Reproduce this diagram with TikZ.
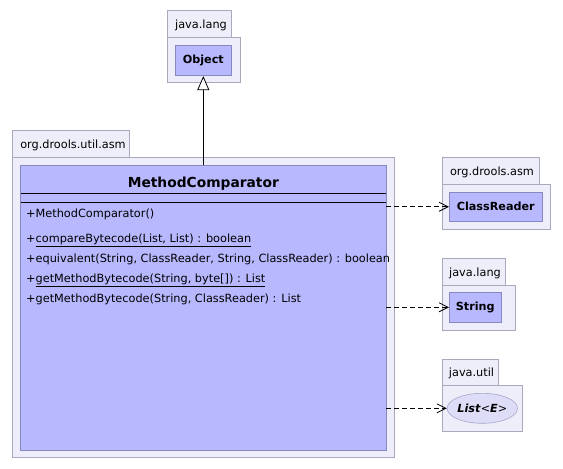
\documentclass[tikz,border=0pt]{standalone}
\usepackage{fontspec}
\setmainfont{DejaVu Sans}
\usetikzlibrary{arrows.meta,shapes.geometric}
\definecolor{pkgfill}{RGB}{238,238,251}
\definecolor{pkgline}{RGB}{168,168,190}
\definecolor{clsfill}{RGB}{184,184,255}
\definecolor{clsline}{RGB}{136,136,192}
\definecolor{ifcfill}{RGB}{221,221,248}
\definecolor{ifcline}{RGB}{166,166,200}
\tikzset{
  pkg/.style={draw=pkgline, fill=pkgfill, line width=0.8pt},
  pkglabel/.style={anchor=base, inner sep=0pt, font=\fontsize{11.3}{13}\selectfont},
  cls/.style={draw=clsline, fill=clsfill, line width=0.8pt, inner sep=0pt,
    font=\bfseries\fontsize{11.2}{13}\selectfont},
  ifc/.style={ellipse, draw=ifcline, fill=ifcfill, line width=0.6pt, inner sep=0pt,
    font=\fontsize{11.2}{13}\selectfont},
  op/.style={anchor=base west, inner sep=0pt, font=\fontsize{11.3}{13}\selectfont},
  dep/.style={dashed, dash pattern=on 5pt off 3pt, line width=0.8pt,
    -{Straight Barb[length=9pt,width=9pt]}},
  inh/.style={line width=0.8pt, -{Triangle[open,fill=white,length=14pt,width=12pt]}}
}
\begin{document}
\begin{tikzpicture}[x=1pt,y=-1pt]
  \useasboundingbox (0,0) rectangle (563,469);
  % packages
  \draw[pkg] (167.3,10) rectangle (231.3,37.3);
  \draw[pkg] (167.3,37.3) rectangle (240.7,82.3);
  \draw[pkg] (12.7,130.7) rectangle (129.3,157.3);
  \draw[pkg] (12.7,157.3) rectangle (394.3,457.7);
  \draw[pkg] (442.7,157.3) rectangle (539.3,184);
  \draw[pkg] (442.7,184) rectangle (550.3,229);
  \draw[pkg] (442.7,258.3) rectangle (505.3,285.3);
  \draw[pkg] (442.7,285.3) rectangle (515.3,330.3);
  \draw[pkg] (442.7,359.3) rectangle (498.3,385.7);
  \draw[pkg] (442.7,385.7) rectangle (522.7,431);
  \node[pkglabel] (langpkg) at (201,28.3) {java.lang};
  \node[pkglabel] (asmpkg) at (73,148.3) {org.drools.util.asm};
  \node[pkglabel] (droolspkg) at (492,175.3) {org.drools.asm};
  \node[pkglabel] (stringpkg) at (475,276.3) {java.lang};
  \node[pkglabel] (utilpkg) at (471.5,376.7) {java.util};
  % classes
  \node[cls, minimum width=56.7pt, minimum height=30.7pt] (object) at (203.3,60.3) {Object};
  \node[cls, minimum width=365.3pt, minimum height=285pt] (comparator) at (203.3,308.2) {};
  \node[cls, minimum width=93pt, minimum height=29pt] (reader) at (495.8,206.8) {ClassReader};
  \node[cls, minimum width=52pt, minimum height=30pt] (string) at (475.3,307.3) {String};
  \node[ifc, minimum width=66.4pt, minimum height=30pt] (list) at (482.3,408.3)
    {\textbf{\textit{List}}\textit{<}\textbf{\textit{E}}\textit{>}};
  \node[anchor=base, inner sep=0pt, font=\bfseries\fontsize{13.8}{16}\selectfont] (title)
    at (203.3,187.3) {MethodComparator};
  \draw[line width=0.8pt] (20.7,193.3) -- (385.9,193.3);
  \draw[line width=0.8pt] (20.7,202.3) -- (385.9,202.3);
  \node[op] (op1) at (26,217.5) {+MethodComparator()};
  \node[op] (op2) at (26,242.3) {+\underline{compareBytecode(List, List) : boolean}};
  \node[op] (op3) at (26,262.5) {+equivalent(String, ClassReader, String, ClassReader) : boolean};
  \node[op] (op4) at (26,282.3) {+\underline{getMethodBytecode(String, byte[]) : List}};
  \node[op] (op5) at (26,302.3) {+getMethodBytecode(String, ClassReader) : List};
  % connectors
  \draw[inh] (object.south |- comparator.north) -- (object.south);
  \draw[dep] (comparator.east |- reader.west) -- (reader.west);
  \draw[dep] (comparator.east |- string.west) -- (string.west);
  \draw[dep] (comparator.east |- list.west) -- (list.west);
\end{tikzpicture}
\end{document}
